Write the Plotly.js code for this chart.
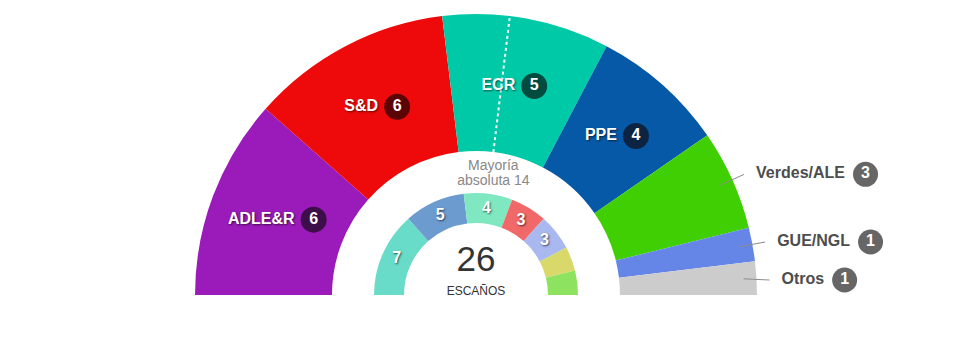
<!DOCTYPE html>
<html><head><meta charset="utf-8">
<script src="https://cdn.plot.ly/plotly-3.0.1.min.js"></script>
<style>html,body{margin:0;padding:0;background:#fff}#chart{width:980px;height:350px}</style>
</head><body><div id="chart"></div>
<script>
// ---- data ----
const parties = ["ADLE&R", "S&D", "ECR", "PPE", "Verdes/ALE", "GUE/NGL", "Otros"];
const seats = [6, 6, 5, 4, 3, 1, 1];
const partyColors = ["#9a1bb9", "#ee0a0a", "#00c9a8", "#0559a7", "#3fcf02", "#6586e6", "#cccccc"];
const badgeColors = ["#3d0e4a", "#5c0404", "#034a3f", "#0c2441", "#666666", "#666666", "#666666"];
const labelInside = [true, true, true, true, false, false, false];
const prevSeats = [7, 5, 4, 3, 3, 2, 2];
const prevColors = ["#69dbc9", "#6b9bcf", "#80e8c1", "#f06868", "#a9b8ef", "#d9d96b", "#8de25f"];
const majority = 14;
const centerCaption = "ESCAÑOS";
const majorityCaption = ["Mayoría", "absoluta " + majority];

// ---- layout constants (pixels) ----
const W = 980, H = 350;
const CX = 476, CY = 295;          // centre of hemicycle (from top-left)
const RANGE = 295;                  // radial axis range -> 1 unit = 1 px
const R_OUT = 281, R_MID = 144, R_IN2 = 102, R_IN1 = 72;
const FONT = "Liberation Sans, Arial, sans-serif";
const MIN_GAP = 38;                 // min vertical spacing of outside labels

function spans(vals) {
  const total = vals.reduce((a, b) => a + b, 0);
  let c = 0;
  return vals.map(v => {
    const a0 = 180 - c / total * 180; c += v;
    const a1 = 180 - c / total * 180;
    return { mid: (a0 + a1) / 2, width: a0 - a1 };
  });
}
const total = seats.reduce((a, b) => a + b, 0);
const outer = spans(seats);
const inner = spans(prevSeats);
const majAngle = 180 - majority / total * 180;

const cv = document.createElement("canvas").getContext("2d");
function tw(text, font) { cv.font = font; return cv.measureText(text).width; }
function toPolar(x, y) { return { r: Math.hypot(x, y), t: Math.atan2(y, x) * 180 / Math.PI }; }
const rad = d => d * Math.PI / 180;

// label geometry
const nameR = [], nameT = [], nameTxt = [];
const badgeR = [], badgeT = [], badgeTxt = [], badgeCol = [];
const outNameX = [], outNameY = [], outNameTxt = [];
const outBadgeX = [], outBadgeY = [], outBadgeTxt = [];
const leadR = [], leadT = [];
let prevY = null;
parties.forEach((p, i) => {
  const m = outer[i].mid;
  const w = tw(p, "bold 16px 'Liberation Sans'");
  if (labelInside[i]) {
    const rm = (R_OUT + R_MID) / 2;
    const gx = rm * Math.cos(rad(m)), gy = rm * Math.sin(rad(m));
    const G = w + 6 + 26;
    const left = gx - G / 2;
    const n = toPolar(left + w / 2, gy);
    nameR.push(n.r); nameT.push(n.t); nameTxt.push(p);
    const b = toPolar(left + w + 6 + 13, gy);
    badgeR.push(b.r); badgeT.push(b.t); badgeTxt.push(String(seats[i])); badgeCol.push(badgeColors[i]);
  } else {
    const ex = 294 * Math.cos(rad(m));
    let ey = 294 * Math.sin(rad(m));
    if (prevY !== null && prevY - ey < MIN_GAP) ey = prevY - MIN_GAP;
    prevY = ey;
    const e = toPolar(ex, ey);
    leadR.push(268, e.r, null); leadT.push(m, e.t, null);
    outNameX.push(ex + 12 + w / 2); outNameY.push(ey); outNameTxt.push(p);
    outBadgeX.push(ex + 12 + w + 8 + 12.5); outBadgeY.push(ey); outBadgeTxt.push(String(seats[i]));
  }
});

const shadow = "1px 1px 2px rgba(0,0,0,0.6)";
const c26 = toPolar(0, 33);
const cEsc = toPolar(0, 3);
const mx = R_MID * Math.cos(rad(majAngle));
const mj1 = toPolar(mx, 129), mj2 = toPolar(mx, 114);

const traces = [
  // outside labels on a cartesian frame (1 unit = 1 px, origin at hemicycle centre)
  { type: "scatter", mode: "text", x: outNameX, y: outNameY, text: outNameTxt,
    textposition: "middle center", cliponaxis: false,
    textfont: { family: FONT, size: 16, color: "#4d4d4d", weight: "bold" },
    hoverinfo: "skip", showlegend: false },
  { type: "scatter", mode: "markers+text", x: outBadgeX, y: outBadgeY, text: outBadgeTxt,
    textposition: "middle center", cliponaxis: false,
    marker: { size: 25, color: "#666666", line: { width: 0 } },
    textfont: { family: FONT, size: 16, color: "#ffffff", weight: "bold" },
    hoverinfo: "skip", showlegend: false },
  // hemicycle
  { type: "barpolar", r: seats.map(() => R_OUT - R_MID), base: R_MID,
    theta: outer.map(s => s.mid), width: outer.map(s => s.width),
    marker: { color: partyColors, line: { width: 0 } }, hoverinfo: "skip", showlegend: false },
  { type: "barpolar", r: prevSeats.map(() => R_IN2 - R_IN1), base: R_IN1,
    theta: inner.map(s => s.mid), width: inner.map(s => s.width),
    marker: { color: prevColors, line: { width: 0 } }, hoverinfo: "skip", showlegend: false },
  { type: "scatterpolar", mode: "lines", r: [R_MID, R_OUT], theta: [majAngle, majAngle],
    line: { color: "#ffffff", width: 2, dash: "dot" }, hoverinfo: "skip", showlegend: false },
  { type: "scatterpolar", mode: "text", r: prevSeats.map(() => (R_IN1 + R_IN2) / 2),
    theta: inner.map(s => s.mid), text: prevSeats.map(v => v >= 3 ? String(v) : ""),
    textposition: "middle center",
    textfont: { family: FONT, size: 16, color: "#ffffff", weight: "bold", shadow: shadow },
    hoverinfo: "skip", showlegend: false, cliponaxis: false },
  { type: "scatterpolar", mode: "text", r: nameR, theta: nameT, text: nameTxt,
    textposition: "middle center",
    textfont: { family: FONT, size: 16, color: "#ffffff", weight: "bold", shadow: shadow },
    hoverinfo: "skip", showlegend: false, cliponaxis: false },
  { type: "scatterpolar", mode: "lines", r: leadR, theta: leadT,
    line: { color: "#8c8c8c", width: 1 }, hoverinfo: "skip", showlegend: false, cliponaxis: false },
  { type: "scatterpolar", mode: "markers+text", r: badgeR, theta: badgeT, text: badgeTxt,
    textposition: "middle center",
    marker: { size: 26, color: badgeCol, line: { width: 0 } },
    textfont: { family: FONT, size: 16, color: "#ffffff", weight: "bold" },
    hoverinfo: "skip", showlegend: false, cliponaxis: false },
  { type: "scatterpolar", mode: "text", r: [c26.r, cEsc.r], theta: [c26.t, cEsc.t],
    text: [String(total), centerCaption], textposition: "middle center",
    textfont: { family: FONT, size: [35, 12], color: "#333333" },
    hoverinfo: "skip", showlegend: false, cliponaxis: false },
  { type: "scatterpolar", mode: "text", r: [mj1.r, mj2.r], theta: [mj1.t, mj2.t],
    text: majorityCaption, textposition: "middle center",
    textfont: { family: FONT, size: 14, color: "#888888" },
    hoverinfo: "skip", showlegend: false, cliponaxis: false }
];

const layout = {
  width: W, height: H,
  margin: { l: 0, r: 0, t: 0, b: 0 },
  paper_bgcolor: "#ffffff", plot_bgcolor: "rgba(0,0,0,0)",
  showlegend: false,
  xaxis: { domain: [0, 1], range: [-CX, W - CX], visible: false, fixedrange: true },
  yaxis: { domain: [0, 1], range: [-(H - CY), CY], visible: false, fixedrange: true },
  polar: {
    domain: { x: [(CX - RANGE) / W, (CX + RANGE) / W], y: [(H - CY) / H, (H - CY + RANGE) / H] },
    sector: [0, 180], hole: 0, bgcolor: "rgba(0,0,0,0)", barmode: "overlay",
    radialaxis: { range: [0, RANGE], visible: false, showgrid: false },
    angularaxis: { visible: false, showgrid: false, rotation: 0, direction: "counterclockwise" }
  }
};

Plotly.newPlot("chart", traces, layout, { staticPlot: true, displayModeBar: false });
</script>
</body></html>
